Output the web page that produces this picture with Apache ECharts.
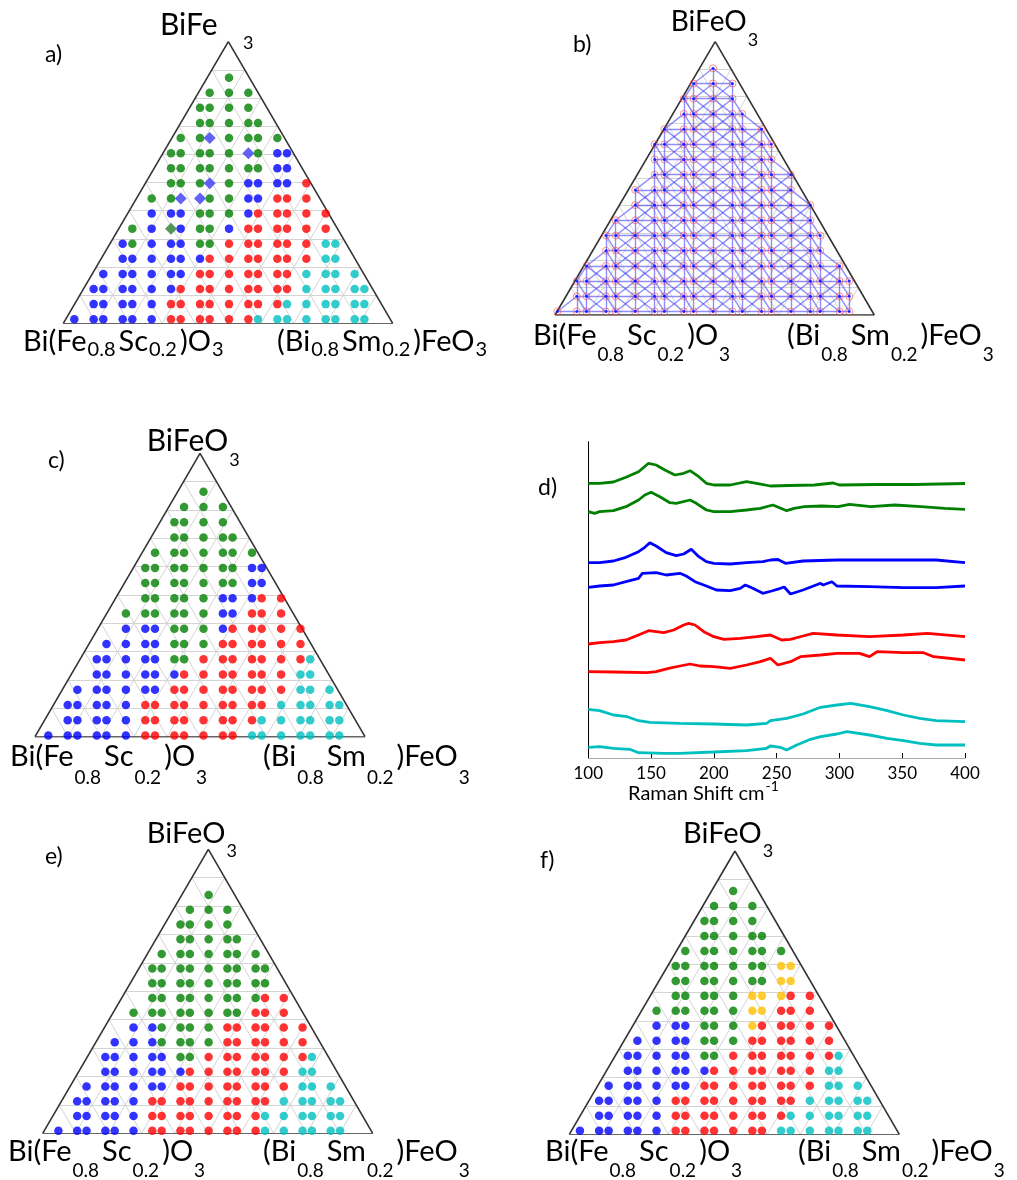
<!DOCTYPE html>
<html><head><meta charset="utf-8">
<script src="https://cdn.jsdelivr.net/npm/echarts@6/dist/echarts.min.js"></script>
<style>html,body{margin:0;padding:0;background:#fff}#c{width:1017px;height:1180px}</style>
</head><body><div id="c"></div>
<script>
// ---------- DATA ----------
// Ternary panels: one string per composition row (top -> bottom), one char per lattice column.
// g green, b blue, r red, c cyan, y yellow, D blue diamond, G green diamond, o sampled point
const panelA = [
"................g",
"..............g.g.g",
".............gg.g.g",
".............gg.g.gg",
"...........g.gD.g.gg.g",
"..........gg.gg.g.Dg.bb",
"..........gg.gg.g.gg.bb",
"..........gg.gD.g.bb.bb.r",
"........g.gD.Dg.g.bb.rr.r",
"........b.bb.gg.g.br.rr.r.r",
"......g.b.Gb.gg.b.rr.rr.r.r",
".....bg.b.bb.gg.r.rr.rr.r.cc",
".....bb.b.bb.br.r.rr.rr.r.cc",
"...b.bb.b.bb.rr.r.rr.rr.c.cc.c",
"..bb.bb.b.br.rr.r.rr.rr.c.cc.cc",
"..bb.bb.b.rr.rr.r.rr.rc.c.cc.cc",
"b.bb.bb.b.rr.rr.r.rc.cc.c.cc.cc"
];
const panelB = [
"................o",
"..............o.o.o",
".............oo.o.o",
".............oo.o.oo",
"...........o.oo.o.oo.o",
"..........oo.oo.o.oo.oo",
"..........oo.oo.o.oo.oo",
"..........oo.oo.o.oo.oo.o",
"........o.oo.oo.o.oo.oo.o",
"........o.oo.oo.o.oo.oo.o.o",
"......o.o.oo.oo.o.oo.oo.o.o",
".....oo.o.oo.oo.o.oo.oo.o.oo",
".....oo.o.oo.oo.o.oo.oo.o.oo",
"...o.oo.o.oo.oo.o.oo.oo.o.oo.o",
"..oo.oo.o.oo.oo.o.oo.oo.o.oo.oo",
"..oo.oo.o.oo.oo.o.oo.oo.o.oo.oo",
"o.oo.oo.o.oo.oo.o.oo.oo.o.oo.oo"
];
const panelC = [
"................g",
"..............g.g.g",
".............gg.g.g",
".............gg.g.gg",
"...........g.gg.g.gg.g",
"..........gg.gg.g.gg.bb",
"..........gg.gg.g.gg.bb",
"..........gg.gg.g.bb.br.r",
"........g.gg.gg.g.bb.rr.r",
"........b.bb.gg.g.br.rr.r.r",
"......b.b.bb.gg.g.rr.rr.r.r",
".....bb.b.bb.gg.r.rr.rr.r.rc",
".....bb.b.bb.br.r.rr.rr.r.cc",
"...b.bb.b.bb.rr.r.rr.rr.r.cc.c",
"..bb.bb.b.rr.rr.r.rr.rr.c.cc.cc",
"..bb.bb.b.rr.rr.r.rr.rc.c.cc.cc",
"b.bb.bb.b.rr.rr.r.rr.cc.c.cc.cc"
];
const panelE = [
"................g",
"..............g.g.g",
".............gg.g.g",
".............gg.g.gg",
"...........g.gg.g.gg.g",
"..........gg.gg.g.gg.gg",
"..........gg.gg.g.gg.gg",
"..........gg.gg.g.gg.gr.r",
"........g.gg.gg.g.gg.rr.r",
"........b.bg.gg.g.rr.rr.r.r",
"......b.b.bg.gg.g.rr.rr.r.r",
".....bb.b.bb.gg.r.rr.rr.r.rc",
".....bb.b.bb.br.r.rr.rr.r.cc",
"...b.bb.b.bb.rr.r.rr.rr.r.cc.c",
"..bb.bb.b.rr.rr.r.rr.rr.c.cc.cc",
"..bb.bb.b.rr.rr.r.rr.rc.c.cc.cc",
"b.bb.bb.b.rr.rr.r.rr.rc.c.cc.cc"
];
const panelF = [
"................g",
"..............g.g.g",
".............gg.g.g",
".............gg.g.gg",
"...........g.gg.g.gg.g",
"..........gg.gg.g.gg.yy",
"..........gg.gg.g.gg.yy",
"..........gg.gg.g.yy.yr.r",
"........g.gg.gg.g.yy.rr.r",
"........b.bb.gg.g.yr.rr.r.r",
"......b.b.bb.gg.g.rr.rr.r.r",
".....bb.b.bb.gg.r.rr.rr.r.rc",
".....bb.b.bb.br.r.rr.rr.r.cc",
"...b.bb.b.bb.rr.r.rr.rr.r.cc.c",
"..bb.bb.b.rr.rr.r.rr.rr.c.cc.cc",
"..bb.bb.b.rr.rr.r.rr.rc.c.cc.cc",
"b.bb.bb.b.rr.rr.r.rr.cc.c.cc.cc"
];

// Raman spectra (d): [Raman shift cm-1, offset intensity a.u.]
const ramanG1 = [[100,274.7],[109,274.7],[120,276],[130,280.7],[140,286.3],[148,294.7],[154,293],[161,288],[169,283],[176,284.7],[181,287.3],[188,281.3],[194,274.7],[200,273],[213,273],[226,276.3],[234,274.7],[245,272],[260,272.5],[280,273],[295,275],[300,273],[330,273.5],[360,273.5],[400,274.5]];
const ramanG2 = [[100,246.3],[105,244.7],[109,246.3],[120,247.3],[130,251.3],[140,258],[145,263],[150,265.7],[157,261.3],[165,255.3],[170,254.7],[181,258],[186,254.7],[194,248],[200,246.3],[213,246.3],[226,248],[237,249.7],[247,253],[258,247.3],[264,249.7],[272,251.3],[286,252],[299,251.3],[308,253.7],[325,251.3],[344,253],[365,251.3],[384,249.7],[400,248.7]];
const ramanB1 = [[100,195.3],[109,195.3],[120,197],[130,200.7],[140,206.3],[145,210.7],[149,215.3],[154,212],[162,205.3],[170,202.3],[176,204],[182,208.7],[188,201.3],[194,196.3],[200,194.7],[213,194],[226,195.3],[239,196.3],[245,198],[251,198.5],[257,194.7],[271,197],[298,198],[324,198],[351,198],[377,198],[400,195.3]];
const ramanB2 = [[100,170.7],[109,172],[120,173],[130,176.3],[140,179.7],[143,184.7],[154,185.3],[162,183],[173,184.7],[178,182],[185,176.3],[194,172],[202,168],[213,167.3],[221,169.7],[225,173],[231,169.7],[239,164.7],[246,167],[253,169.7],[256,171],[261,164],[271,168],[285,174.7],[287,173],[294,176.3],[298,172],[324,171.3],[351,170.3],[377,170.3],[400,172]];
const ramanR1 = [[100,114],[109,115.3],[120,116.3],[130,118],[140,123],[148,127.3],[160,125.3],[168,128],[176,133],[180,134.7],[185,133],[192,126.3],[200,121.3],[208,118.7],[221,119.7],[234,121.3],[245,123],[254,118],[261,118.7],[271,122],[279,124.7],[298,123],[324,121.3],[351,123],[370,124.7],[400,121.3]];
const ramanR2 = [[100,86.3],[120,86],[147,85.3],[154,86.3],[164,89.7],[173,92],[181,94],[189,92],[200,91.3],[213,89.7],[226,93],[237,96.3],[245,99.7],[251,93],[261,96.3],[269,101.3],[285,103],[298,104.7],[316,104.7],[324,101.3],[330,106.3],[351,105.3],[367,105.3],[375,101.3],[400,98]];
const ramanC1 = [[100,48.7],[109,47.3],[120,43],[131,41.3],[140,37.3],[149,35.7],[173,34.7],[200,34],[226,33],[242,34.7],[245,37.3],[258,39.7],[271,44],[285,50.7],[298,53],[309,54.7],[324,51.3],[338,47.3],[351,43],[364,39.7],[377,37.3],[400,36.3]];
const ramanC2 = [[100,10.7],[109,11.3],[120,9.7],[133,8.7],[140,5.3],[160,4.7],[173,4.7],[200,6],[226,7.3],[242,9.7],[245,12],[253,10.7],[258,8],[266,13],[277,18.7],[285,21.3],[298,24],[306,26.3],[324,23],[338,19.7],[351,17.3],[364,14.7],[377,13],[400,13]];
const ramanTicks = [100,150,200,250,300,350,400];

// Text
const topLabel = ['BiFeO','3'];
const topLabelA = ['BiFe','3'];
const leftLabel = ['Bi(Fe','0.8','Sc','0.2',')O','3'];
const rightLabel = ['(Bi','0.8','Sm','0.2',')FeO','3'];
const xName = ['Raman Shift cm','-1'];
const panelLetters = ['a)','b)','c)','d)','e)','f)'];

// ---------- LAYOUT ----------
const FONT = 'Lato';
const tri = [
  {rows: panelA, box:[63.3,41.7,392.7,323.3], xr:[-1.14,32.93], ax:15.93, yr:[-2.38,16.27]},
  {rows: panelB, box:[555,41.7,874.3,315], xr:[-0.24,32.57], ax:16.22, yr:[-1.75,16.23], mesh:true},
  {rows: panelC, box:[35,453.3,365,736.7], xr:[-1.37,32.65], ax:15.64, yr:[-2.52,16.08]},
  {rows: panelE, box:[42.7,849.3,372.7,1133.3], xr:[-1.67,33.47], ax:15.97, yr:[-3.1,16.18]},
  {rows: panelF, box:[569.3,851,899.3,1134.3], xr:[-1.11,33.34], ax:16.18, yr:[-2.67,16.24]}
];
const colors = {g:'#008000', b:'#0000ff', r:'#ff0000', c:'#00bfbf', y:'#ffc000', D:'#3b3bf5', G:'#2e7d32'};

function parseRows(rows){const pts=[];rows.forEach((s,r)=>{for(let k=0;k<s.length;k++){if(s[k]!=='.')pts.push({k:k,r:r,ch:s[k]});}});return pts;}
function lerp(p,q,t){return [p[0]+(q[0]-p[0])*t, p[1]+(q[1]-p[1])*t];}
function triGrid(L,R,A,n){const s=[];for(let i=1;i<n;i++){const t=i/n;
  s.push({coords:[lerp(L,A,t),lerp(R,A,t)]});
  s.push({coords:[lerp(L,R,t),lerp(A,R,t)]});
  s.push({coords:[lerp(R,L,t),lerp(A,L,t)]});}return s;}
function meshEdges(rows){
  const R=rows.map(s=>{const ks=[];for(let k=0;k<s.length;k++)if(s[k]!=='.')ks.push(k);return ks;});
  const segs=[];
  const near=(arr,k)=>arr.reduce((a,b)=>Math.abs(b-k)<Math.abs(a-k)?b:a);
  R.forEach((ks,r)=>{
    for(let i=0;i<ks.length-1;i++)segs.push({coords:[[ks[i],r],[ks[i+1],r]]});
    if(r+1<R.length){const nx=R[r+1];
      ks.forEach(k=>{if(nx.includes(k))segs.push({coords:[[k,r],[k,r+1]]});});
      for(let i=0;i<ks.length-1;i++){const k1=ks[i],k2=ks[i+1];
        if(nx.includes(k1)&&nx.includes(k2)){
          segs.push({coords:[[k1,r],[k2,r+1]]});
          if(k2-k1>1)segs.push({coords:[[k2,r],[k1,r+1]]});}}
      nx.forEach(k=>{if(!ks.includes(k))segs.push({coords:[[near(ks,k),r],[k,r+1]]});});
    }
  });
  return segs;
}

const grids=[],xAxes=[],yAxes=[],series=[];
tri.forEach((p,i)=>{
  grids.push({left:p.box[0],top:p.box[1],width:p.box[2]-p.box[0],height:p.box[3]-p.box[1]});
  xAxes.push({type:'value',gridIndex:i,min:p.xr[0],max:p.xr[1],show:false,splitLine:{show:false}});
  yAxes.push({type:'value',gridIndex:i,min:p.yr[0],max:p.yr[1],inverse:true,show:false,splitLine:{show:false}});
  const L=[p.xr[0],p.yr[1]],Rc=[p.xr[1],p.yr[1]],A=[p.ax,p.yr[0]];
  series.push({type:'lines',coordinateSystem:'cartesian2d',xAxisIndex:i,yAxisIndex:i,silent:true,z:1,
    data:triGrid(L,Rc,A,10),lineStyle:{color:'#d4d4d4',width:1,opacity:1}});
  series.push({type:'lines',coordinateSystem:'cartesian2d',xAxisIndex:i,yAxisIndex:i,silent:true,z:5,
    data:[{coords:[L,Rc]},{coords:[Rc,A]},{coords:[A,L]}],lineStyle:{color:'#333',width:1.6,opacity:1}});
  const pts=parseRows(p.rows);
  if(p.mesh){
    series.push({type:'lines',coordinateSystem:'cartesian2d',xAxisIndex:i,yAxisIndex:i,silent:true,z:3,
      data:meshEdges(p.rows),lineStyle:{color:'rgba(50,50,255,0.55)',width:1.4,opacity:1}});
    const d=pts.map(q=>[q.k,q.r]);
    series.push({type:'scatter',xAxisIndex:i,yAxisIndex:i,silent:true,z:6,data:d,symbol:'circle',symbolSize:7,
      itemStyle:{color:'rgba(0,0,0,0)',borderColor:'rgba(255,70,70,0.75)',borderWidth:1}});
    series.push({type:'scatter',xAxisIndex:i,yAxisIndex:i,silent:true,z:7,data:d,symbol:'circle',symbolSize:3,
      itemStyle:{color:'#1010ff'}});
  } else {
    Object.keys(colors).forEach(ch=>{
      const d=pts.filter(q=>q.ch===ch).map(q=>[q.k,q.r]);
      if(!d.length)return;
      const dia=(ch==='D'||ch==='G');
      series.push({type:'scatter',xAxisIndex:i,yAxisIndex:i,silent:true,z:dia?8:6,data:d,
        symbol:dia?'diamond':'circle',symbolSize:dia?12:8.5,itemStyle:{color:colors[ch]}});
    });
  }
});

// Raman panel
const gd=tri.length;
grids.push({left:588.3,top:441.7,width:376.7,height:316.3});
xAxes.push({type:'value',gridIndex:gd,min:ramanTicks[0],max:ramanTicks[ramanTicks.length-1],interval:50,
  axisLine:{onZero:false,lineStyle:{color:'#a8a8a8',width:1}},
  axisTick:{inside:true,length:5,lineStyle:{color:'#000'}},
  axisLabel:{fontSize:17,fontFamily:FONT,color:'#000',margin:7},splitLine:{show:false}});
yAxes.push({type:'value',gridIndex:gd,min:0,max:316.3,axisLine:{show:true,onZero:false,lineStyle:{color:'#000',width:1}},
  axisTick:{show:false},axisLabel:{show:false},splitLine:{show:false}});
[[ramanG1,colors.g],[ramanG2,colors.g],[ramanB1,colors.b],[ramanB2,colors.b],
 [ramanR1,colors.r],[ramanR2,colors.r],[ramanC1,colors.c],[ramanC2,colors.c]].forEach(([d,c])=>{
  series.push({type:'line',xAxisIndex:gd,yAxisIndex:gd,data:d,showSymbol:false,symbol:'none',silent:true,
    lineStyle:{color:c,width:2.8},z:4});
});

// ---------- TEXT ----------
function formula(x,y,parts,mfs,sfs,pad){
  const text=parts.map((t,i)=>'{'+(i%2?'s':'m')+'|'+t+'}').join('');
  return {type:'text',z:100,silent:true,style:{x:x,y:y,text:text,fill:'#000',fontFamily:FONT,fontSize:mfs,
    align:'left',verticalAlign:'top',textAlign:'left',textVerticalAlign:'top',
    rich:{m:{fontSize:mfs,fontFamily:FONT,lineHeight:mfs,verticalAlign:'top',fill:'#000'},
          s:{fontSize:sfs,fontFamily:FONT,lineHeight:sfs,verticalAlign:'top',padding:[pad,3,0,1],fill:'#000'}}}};
}
function plain(x,y,t,fs){return {type:'text',z:100,silent:true,style:{x:x,y:y,text:t,fill:'#000',fontFamily:FONT,fontSize:fs,
  align:'left',verticalAlign:'top',textAlign:'left',textVerticalAlign:'top',lineHeight:fs}};}

const graphic=[
  // a
  plain(160,10.4,topLabelA[0],30), plain(243,34,topLabelA[1],18),
  formula(23,327.6,leftLabel,29,20,11.7), formula(277,327.6,rightLabel,29,20,11.7),
  // b
  formula(670.7,8.2,topLabel,28,18,22.8),
  formula(533,321,leftLabel,29,19,23.9), formula(787,321,rightLabel,29,19,23.9),
  // c
  formula(146.7,426.4,topLabel,30,18,24.6),
  formula(10,742.6,leftLabel,29,19,25.5), formula(263,742.6,rightLabel,29,19,25.5),
  // e
  formula(146.7,819.3,topLabel,29,18,22.7),
  formula(8,1137.6,leftLabel,29,19,23.9), formula(263,1137.6,rightLabel,29,19,23.9),
  // f
  formula(683,819.3,topLabel,29,18,22.7),
  formula(545,1137.3,leftLabel,29,19,23.9), formula(798,1137.3,rightLabel,29,19,23.9),
  // panel letters
  plain(45,43,panelLetters[0],23), plain(573,33,panelLetters[1],23), plain(48,449,panelLetters[2],23),
  plain(538,476,panelLetters[3],23), plain(45,845,panelLetters[4],23), plain(540,849,panelLetters[5],23),
  // Raman axis name with superscript
  {type:'text',z:100,silent:true,style:{x:628,y:779,text:'{m|'+xName[0]+'}{s|'+xName[1]+'}',fill:'#000',fontFamily:FONT,fontSize:20,
    align:'left',verticalAlign:'top',textAlign:'left',textVerticalAlign:'top',
    rich:{m:{fontSize:20,fontFamily:FONT,lineHeight:20,verticalAlign:'top',padding:[5,0,0,0],fill:'#000'},
          s:{fontSize:14,fontFamily:FONT,lineHeight:14,verticalAlign:'top',padding:[0,0,0,1],fill:'#000'}}}}
];

const chart=echarts.init(document.getElementById('c'),null,{renderer:'canvas'});
chart.setOption({animation:false,backgroundColor:'#fff',grid:grids,xAxis:xAxes,yAxis:yAxes,series:series,graphic:graphic});
</script></body></html>
